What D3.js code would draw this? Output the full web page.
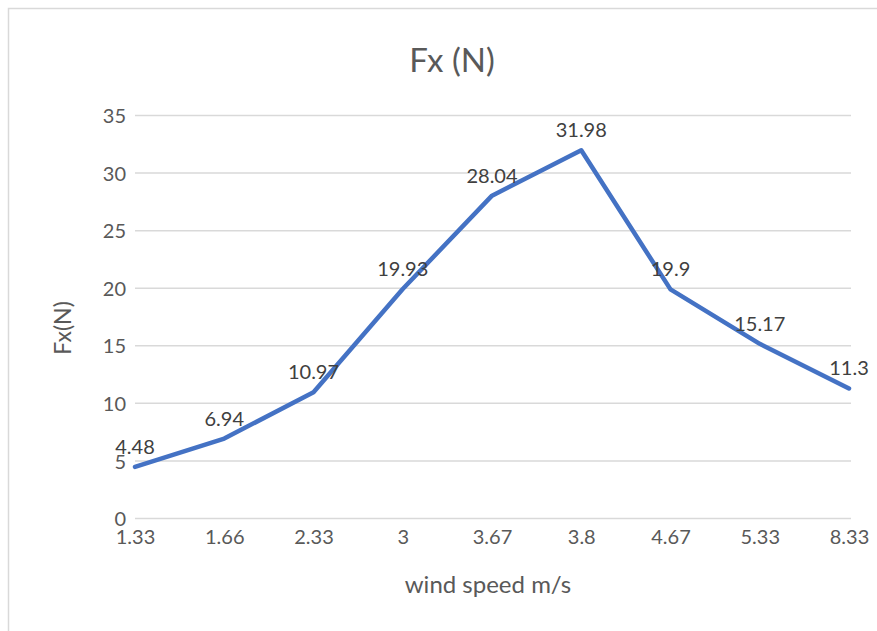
<!DOCTYPE html>
<html>
<head>
<meta charset="utf-8">
<script src="https://cdn.jsdelivr.net/npm/d3@7"></script>
<style>
  html, body { margin: 0; padding: 0; background: #fff; }
  svg { display: block; }
</style>
</head>
<body>
<svg id="chart" width="877" height="631"></svg>
<script>
// Wind speed categories (m/s) and measured force Fx (N)
const windSpeeds = ["1.33", "1.66", "2.33", "3", "3.67", "3.8", "4.67", "5.33", "8.33"];
const fxValues = [4.48, 6.94, 10.97, 19.93, 28.04, 31.98, 19.9, 15.17, 11.3];
const yTicks = [0, 5, 10, 15, 20, 25, 30, 35];

const chartTitle = "Fx (N)";
const xTitle = "wind speed m/s";
const yTitle = "Fx(N)";

const svg = d3.select("#chart");
const font = "Lato, 'Open Sans', sans-serif";

// Outer chart frame
svg.append("rect")
  .attr("x", 8.5).attr("y", 8.5)
  .attr("width", 900).attr("height", 700)
  .attr("fill", "#fff")
  .attr("stroke", "#d9d9d9")
  .attr("stroke-width", 1.5);

const x = d3.scalePoint().domain(windSpeeds).range([135, 849]);
const y = d3.scaleLinear().domain([0, 35]).range([518.5, 115.5]);

// Horizontal gridlines
svg.append("g")
  .selectAll("line")
  .data(yTicks)
  .join("line")
  .attr("x1", 135).attr("x2", 851)
  .attr("y1", d => y(d)).attr("y2", d => y(d))
  .attr("stroke", "#d9d9d9")
  .attr("stroke-width", 1.5);

// Y axis tick labels
const yAxis = d3.axisLeft(y).tickValues(yTicks).tickSize(0).tickPadding(0);
const gy = svg.append("g").attr("transform", "translate(126,0)").call(yAxis);
gy.select(".domain").remove();
gy.selectAll("text")
  .attr("font-family", font)
  .attr("font-size", 20)
  .attr("fill", "#595959")
  .attr("dy", "0.36em");

// X axis tick labels
const xAxis = d3.axisBottom(x).tickSize(0).tickPadding(0);
const gx = svg.append("g").attr("transform", "translate(0,544)").call(xAxis);
gx.select(".domain").remove();
gx.selectAll("text")
  .attr("font-family", font)
  .attr("font-size", 20)
  .attr("fill", "#595959")
  .attr("dy", "0");

// Series line
const line = d3.line()
  .x((d, i) => x(windSpeeds[i]))
  .y(d => y(d));

svg.append("path")
  .datum(fxValues)
  .attr("d", line)
  .attr("fill", "none")
  .attr("stroke", "#4472C4")
  .attr("stroke-width", 4.5)
  .attr("stroke-linejoin", "round")
  .attr("stroke-linecap", "round");

// Data labels above each point
svg.append("g")
  .selectAll("text")
  .data(fxValues)
  .join("text")
  .attr("x", (d, i) => x(windSpeeds[i]))
  .attr("y", d => y(d) - 13)
  .attr("text-anchor", "middle")
  .attr("font-family", font)
  .attr("font-size", 20)
  .attr("fill", "#404040")
  .text(d => d);

// Chart title
svg.append("text")
  .attr("x", 452).attr("y", 72)
  .attr("text-anchor", "middle")
  .attr("font-family", font)
  .attr("font-size", 33)
  .attr("fill", "#595959")
  .text(chartTitle);

// Axis titles
svg.append("text")
  .attr("x", 488).attr("y", 593)
  .attr("text-anchor", "middle")
  .attr("font-family", font)
  .attr("font-size", 24)
  .attr("fill", "#595959")
  .text(xTitle);

svg.append("text")
  .attr("transform", "translate(71,328) rotate(-90)")
  .attr("text-anchor", "middle")
  .attr("font-family", font)
  .attr("font-size", 23)
  .attr("fill", "#595959")
  .text(yTitle);
</script>
</body>
</html>
